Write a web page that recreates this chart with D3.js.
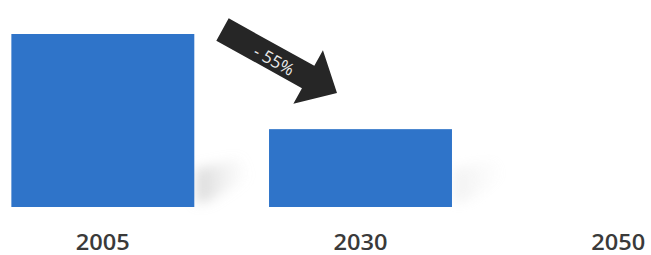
<!DOCTYPE html>
<html><head><meta charset="utf-8">
<script src="https://cdn.jsdelivr.net/npm/d3@7"></script>
<style>html,body{margin:0;padding:0;background:#fff;overflow:hidden}</style>
</head><body>
<svg id="c" width="651" height="255"></svg>
<script>
const categories = ["2005", "2030", "2050"];
const values = [100, 45, 0];
const changeLabel = "- 55%";

const svg = d3.select("#c");

const x = d3.scaleBand().domain(categories).range([-26, 747]).paddingInner(0.29).paddingOuter(0.145);
const y = d3.scaleLinear().domain([0, 100]).range([207, 34]);

const defs = svg.append("defs");
const blur = defs.append("filter").attr("id","blur").attr("x","-50%").attr("y","-50%").attr("width","200%").attr("height","200%");
blur.append("feGaussianBlur").attr("stdDeviation", 6);
const g1 = defs.append("linearGradient").attr("id","sh").attr("x1","0").attr("x2","1").attr("y1","0").attr("y2","0");
g1.append("stop").attr("offset","0").attr("stop-color","#b8b8b8").attr("stop-opacity",0.55);
g1.append("stop").attr("offset","1").attr("stop-color","#d8d8d8").attr("stop-opacity",0);

// soft shadows to the right of the bars
svg.append("g").selectAll("path").data(categories.filter((c,i)=>values[i]>0)).join("path")
  .attr("d", c => {
    const r = x(c) + x.bandwidth();
    const b = y(0);
    return `M${r+2},${b-38} L${r+45},${b-48} L${r+55},${b-30} L${r+15},${b-6} L${r+2},${b-4} Z`;
  })
  .attr("fill","url(#sh)").attr("filter","url(#blur)")
  .attr("opacity", (c) => c === categories[0] ? 1 : 0.35);

svg.append("g").selectAll("rect").data(categories).join("rect")
  .attr("x", d => x(d))
  .attr("y", (d,i) => y(values[i]))
  .attr("width", x.bandwidth())
  .attr("height", (d,i) => y(0) - y(values[i]))
  .attr("fill", "#2f74c9");

// axis labels
const xAxis = d3.axisBottom(x).tickSize(0).tickPadding(0);
const ax = svg.append("g").attr("transform", `translate(0,${y(0)+43})`).call(xAxis);
ax.select(".domain").remove();
ax.selectAll("text")
  .attr("font-family", "'Open Sans', sans-serif")
  .attr("font-size", 21)
  .attr("font-weight", 600)
  .attr("fill", "#3a3a3a")
  .attr("dy", "0")
  .attr("textLength", 54)
  .attr("lengthAdjust", "spacingAndGlyphs");

// arrow
const tail = [222.5, 29.5], tip = [337, 93];
const ang = Math.atan2(tip[1]-tail[1], tip[0]-tail[0]) * 180 / Math.PI;
const L = Math.hypot(tip[0]-tail[0], tip[1]-tail[1]);
const shaftW = 25.5, headW = 61, headL = 33;
const ag = svg.append("g").attr("transform", `translate(${tail[0]},${tail[1]}) rotate(${ang})`);
ag.append("path")
  .attr("d", `M0,${-shaftW/2} L${L-headL},${-shaftW/2} L${L-headL},${-headW/2} L${L},0 L${L-headL},${headW/2} L${L-headL},${shaftW/2} L0,${shaftW/2} Z`)
  .attr("fill", "#262626");
ag.append("text")
  .attr("x", 60).attr("y", 2).attr("dy", "0.36em")
  .attr("text-anchor", "middle")
  .attr("font-family", "'Open Sans', sans-serif")
  .attr("font-size", 17)
  .attr("fill", "#ececec")
  .text(changeLabel);
</script>
</body></html>
